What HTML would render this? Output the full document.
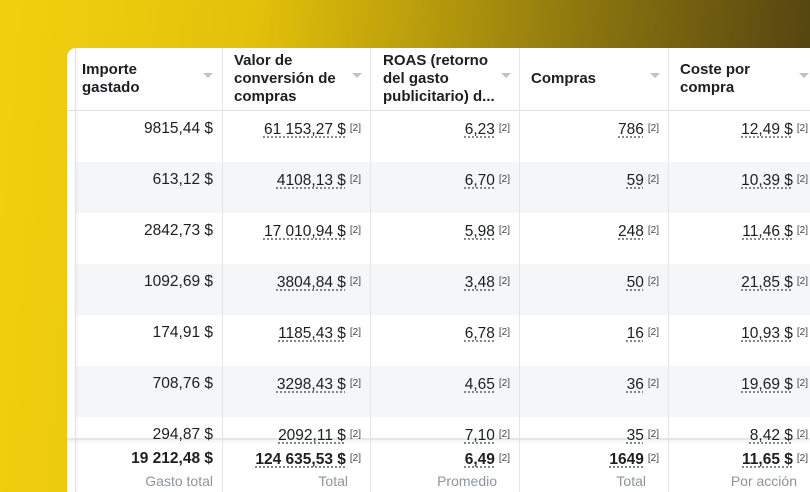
<!DOCTYPE html>
<html><head><meta charset="utf-8"><style>
*{margin:0;padding:0;box-sizing:border-box}
html,body{width:810px;height:492px;overflow:hidden}
body{position:relative;font-family:"Liberation Sans",Arial,sans-serif;
background:linear-gradient(95deg,#f2d00e 0%,#e3c10a 30%,#b89c0c 50%,#85700f 72%,#4c3d10 100%);}
#panel{position:absolute;left:67px;top:48px;width:743px;height:444px;background:#fff;border-top-left-radius:9px;overflow:hidden}
#lstrip{position:absolute;left:75px;top:48px;width:1px;height:444px;background:#e2e3e6;box-shadow:1px 0 2px rgba(0,0,0,.08)}
.row{position:absolute;left:76px;width:734px;height:51px}
.g{background:#f5f6f7}
.vl{position:absolute;top:48px;height:444px;width:1px;background:#e4e5e7}
.hd{position:absolute;top:48px;height:62px;font-weight:bold;font-size:15px;line-height:18px;color:#1c1e21;display:flex;align-items:center}
.tri{position:absolute;top:73px;width:0;height:0;border-left:5px solid transparent;border-right:5px solid transparent;border-top:5px solid #bec3c9}
.c{position:absolute;font-size:15.5px;color:#1c1e21;text-align:right;line-height:18px;white-space:nowrap}
.u{text-decoration:underline dotted #606770;text-underline-offset:3px}
.s{font-size:10px;vertical-align:3px;margin-left:4px;color:#444}
.b{font-weight:bold}
.l{position:absolute;font-size:14px;color:#8d949e;text-align:right;top:473px}
</style></head><body>
<div id="panel"></div>
<div class="row g" style="top:162px"></div>
<div class="row g" style="top:264px"></div>
<div class="row g" style="top:366px"></div>
<div style="position:absolute;left:67px;top:110px;width:743px;height:1px;background:#dddfe2"></div>
<div style="position:absolute;left:67px;top:438px;width:743px;height:2px;background:#e6e7e9;box-shadow:0 2px 3px rgba(0,0,0,.08)"></div>
<div id="lstrip"></div>
<div class="vl" style="left:222px"></div>
<div class="vl" style="left:370px"></div>
<div class="vl" style="left:519px"></div>
<div class="vl" style="left:668px"></div>

<div class="hd" style="left:82px;width:130px">Importe<br>gastado</div>
<div class="hd" style="left:234px;width:125px">Valor de<br>conversión de<br>compras</div>
<div class="hd" style="left:383px;width:125px">ROAS (retorno<br>del gasto<br>publicitario) d...</div>
<div class="hd" style="left:531px;width:125px">Compras</div>
<div class="hd" style="left:680px;width:125px">Coste por<br>compra</div>
<div class="tri" style="left:203px"></div>
<div class="tri" style="left:352px"></div>
<div class="tri" style="left:501px"></div>
<div class="tri" style="left:650px"></div>
<div class="tri" style="left:799px"></div>

<div id="cells"></div>
<script>
var d=[["9815,44 $","61 153,27 $","6,23","786","12,49 $"],
["613,12 $","4108,13 $","6,70","59","10,39 $"],
["2842,73 $","17 010,94 $","5,98","248","11,46 $"],
["1092,69 $","3804,84 $","3,48","50","21,85 $"],
["174,91 $","1185,43 $","6,78","16","10,93 $"],
["708,76 $","3298,43 $","4,65","36","19,69 $"],
["294,87 $","2092,11 $","7,10","35","8,42 $"]];
var R=[213,361,510,659,808];
var h="";
d.forEach(function(r,i){var y=120+i*51;
r.forEach(function(v,j){
if(j==0)h+='<div class="c" style="right:'+(810-R[0])+'px;top:'+y+'px">'+v+'</div>';
else h+='<div class="c" style="right:'+(810-R[j])+'px;top:'+y+'px"><span class="u">'+v+'</span><span class="s">[2]</span></div>';
});});
var t=["19 212,48 $","124 635,53 $","6,49","1649","11,65 $"];
t.forEach(function(v,j){var y=450;
if(j==0)h+='<div class="c b" style="right:'+(810-R[0])+'px;top:'+y+'px">'+v+'</div>';
else h+='<div class="c b" style="right:'+(810-R[j])+'px;top:'+y+'px"><span class="u">'+v+'</span><span class="s" style="font-weight:normal">[2]</span></div>';});
var L=[["Gasto total",213],["Total",348],["Promedio",497],["Total",646],["Por acción",797]];
L.forEach(function(x){h+='<div class="l" style="right:'+(810-x[1])+'px">'+x[0]+'</div>'});
document.getElementById("cells").innerHTML=h;
</script>
</body></html>
